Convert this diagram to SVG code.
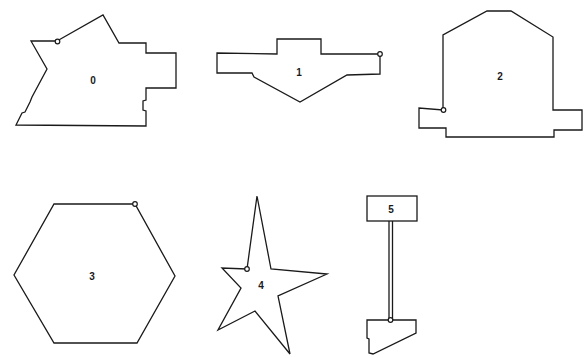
<svg xmlns="http://www.w3.org/2000/svg" width="584" height="358" viewBox="0 0 584 358">
<style>
.s{fill:none;stroke:#1a1a1a;stroke-width:1.3;stroke-linejoin:miter}
.v{fill:#fff;stroke:#1a1a1a;stroke-width:1.2}
.t{font-family:"Liberation Sans",Arial,sans-serif;font-size:10px;font-weight:bold;fill:#1a1a1a;text-anchor:middle}
</style>
<rect width="584" height="358" fill="#fff"/>
<g id="node0">
<path class="s" d="M57,41 L103,15 L119,43 L146,43 L146,53 L176,53 L176,88 L146,88 L146,100 L143,101 L143,110 L146,111 L146,126 L16,125 L22,113 L25,112 L30,102 L32,97 L47,69 L31,41 Z"/>
<circle class="v" cx="57.5" cy="41.5" r="2.3"/>
<text class="t" x="93" y="84">0</text>
</g>
<g id="node1">
<path class="s" d="M380,54 L321,54 L321,39 L277,39 L277,54 L217,53 L217,73 L252,73 L254,77 L300,102 L347,75 L380,74 Z"/>
<circle class="v" cx="380" cy="54" r="2.3"/>
<text class="t" x="299" y="76">1</text>
</g>
<g id="node2">
<path class="s" d="M443,110 L443,35 L487,11 L511,11 L553,37 L553,110 L582,110 L582,130 L554,130 L554,137 L446,137 L446,128 L419,128 L419,108 Z"/>
<circle class="v" cx="443.5" cy="110" r="2.3"/>
<text class="t" x="500" y="80">2</text>
</g>
<g id="node3">
<path class="s" d="M54,204 L135,204 L175,276 L137,343 L54,343 L14,275 Z"/>
<circle class="v" cx="135" cy="204" r="2.3"/>
<text class="t" x="92" y="280">3</text>
</g>
<g id="node4">
<path class="s" d="M257,196 L271,269 L327,274 L278,296 L290,354 L255,311 L218,330 L241,288 L222,268 L247,269 Z"/>
<circle class="v" cx="247" cy="269" r="2.3"/>
<text class="t" x="261" y="289">4</text>
</g>
<g id="node5">
<rect class="s" x="367" y="196" width="50" height="25"/>
<text class="t" x="391" y="213">5</text>
<path class="s" d="M367,320 L416,320 L416,333 L373,354 L369,353 L369,339 L367,338 Z"/>
</g>
<g id="connectors">
<line class="s" x1="389" y1="221" x2="389" y2="320" stroke-width="1"/>
<line class="s" x1="392.5" y1="221" x2="392.5" y2="320" stroke-width="1"/>
<circle class="v" cx="390.5" cy="320" r="2.3"/>
</g>
</svg>
